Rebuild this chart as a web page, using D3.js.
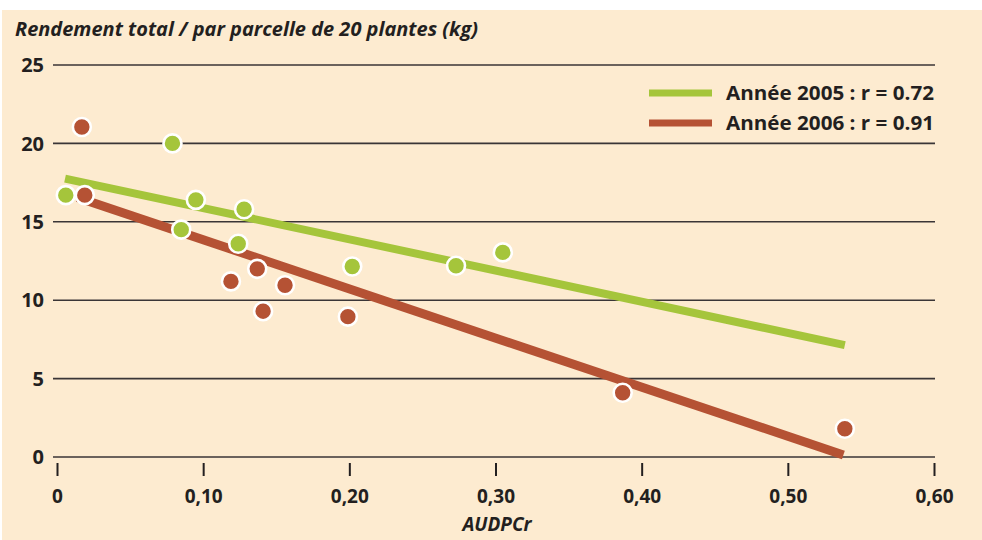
<!DOCTYPE html>
<html>
<head>
<meta charset="utf-8">
<script src="https://cdn.jsdelivr.net/npm/d3@7"></script>
<style>
  html, body { margin: 0; padding: 0; background: #fff; }
  svg { display: block; }
  text { font-family: 'Open Sans', 'DejaVu Sans', sans-serif; fill: #231f20; }
</style>
</head>
<body>
<div id="chart"></div>
<script>
// data
const xTicks = [0, 0.1, 0.2, 0.3, 0.4, 0.5, 0.6];
const xTickLabels = ['0', '0,10', '0,20', '0,30', '0,40', '0,50', '0,60'];
const yTicks = [0, 5, 10, 15, 20, 25];

const pts2005 = [
  [0.006, 16.7], [0.079, 20.0], [0.095, 16.4], [0.085, 14.5], [0.128, 15.8],
  [0.124, 13.6], [0.202, 12.15], [0.273, 12.2], [0.305, 13.05]
];
const pts2006 = [
  [0.017, 21.05], [0.019, 16.7], [0.119, 11.2], [0.137, 12.0], [0.156, 10.95],
  [0.141, 9.3], [0.199, 8.95], [0.387, 4.1], [0.539, 1.8]
];
const fit2005 = [[0.0055, 17.75], [0.539, 7.14]];
const fit2006 = [[0.014, 16.55], [0.538, 0.13]];

const legendItems = [
  { label: 'Année 2005 : r = 0.72', color: '#a5c53b' },
  { label: 'Année 2006 : r = 0.91', color: '#b55234' },
];

const W = 982, H = 540;
const GREEN = '#a5c53b', RED = '#b55234';

const svg = d3.select('#chart').append('svg').attr('width', W).attr('height', H);

svg.append('rect').attr('x', 2).attr('y', 10).attr('width', W - 2).attr('height', H - 10)
  .attr('fill', '#fdebd0');

const x = d3.scaleLinear().domain([0, 0.6]).range([57, 934]);
const y = d3.scaleLinear().domain([0, 25]).range([457, 65]);

// ── Title ────────────────────────────────────────────────────────────────────
svg.append('text')
  .attr('x', 15).attr('y', 36)
  .attr('textLength', 463).attr('lengthAdjust', 'spacingAndGlyphs')
  .style('font-size', '19px').style('font-weight', 700).style('font-style', 'italic')
  .text('Rendement total / par parcelle de 20 plantes (kg)');

// ── Grid + y labels ──────────────────────────────────────────────────────────
svg.append('g').selectAll('line').data(yTicks).enter().append('line')
  .attr('x1', 53).attr('x2', 935)
  .attr('y1', d => y(d)).attr('y2', d => y(d))
  .attr('stroke', '#3a3536').attr('stroke-width', 1.6);

svg.append('g').selectAll('text').data(yTicks).enter().append('text')
  .attr('x', 44).attr('y', d => y(d))
  .attr('dy', '0.36em')
  .attr('text-anchor', 'end')
  .style('font-size', '20px').style('font-weight', 700)
  .text(d => d);

// ── x axis ticks ─────────────────────────────────────────────────────────────
const xAxis = d3.axisBottom(x).tickValues(xTicks).tickSize(13)
  .tickFormat((d, i) => xTickLabels[i]);
const gx = svg.append('g').attr('transform', 'translate(0,463)').call(xAxis);
gx.select('.domain').remove();
gx.selectAll('.tick line').attr('stroke', '#231f20').attr('stroke-width', 2);
gx.selectAll('.tick text')
  .attr('y', 33).attr('dy', '0.36em')
  .style('font-family', "'Open Sans', sans-serif")
  .style('font-size', '19px').style('font-weight', 700).attr('fill', '#231f20');

svg.append('text')
  .attr('x', 497).attr('y', 531)
  .attr('text-anchor', 'middle')
  .style('font-size', '19px').style('font-weight', 700).style('font-style', 'italic')
  .text('AUDPCr');

// ── Regression lines ─────────────────────────────────────────────────────────
const line = d3.line().x(d => x(d[0])).y(d => y(d[1]));
svg.append('path').datum(fit2005).attr('d', line)
  .attr('fill', 'none').attr('stroke', GREEN).attr('stroke-width', 8);
svg.append('path').datum(fit2006).attr('d', line)
  .attr('fill', 'none').attr('stroke', RED).attr('stroke-width', 9);

// ── Points ───────────────────────────────────────────────────────────────────
function dots(data, color) {
  svg.append('g').selectAll('circle').data(data).enter().append('circle')
    .attr('cx', d => x(d[0])).attr('cy', d => y(d[1]))
    .attr('r', 9)
    .attr('fill', color)
    .attr('stroke', '#fff').attr('stroke-width', 2.6);
}
dots(pts2005, GREEN);
dots(pts2006, RED);

// ── Legend ───────────────────────────────────────────────────────────────────
const lg = svg.append('g').selectAll('g').data(legendItems).enter().append('g')
  .attr('transform', (d, i) => `translate(0,${93 + i * 30})`);
lg.append('line').attr('x1', 649).attr('x2', 712).attr('y1', 0).attr('y2', 0)
  .attr('stroke', d => d.color).attr('stroke-width', 7);
lg.append('text').attr('x', 726).attr('y', 0).attr('dy', '0.36em')
  .attr('textLength', 208).attr('lengthAdjust', 'spacingAndGlyphs')
  .style('font-size', '20px').style('font-weight', 700)
  .text(d => d.label);
</script>
</body>
</html>
